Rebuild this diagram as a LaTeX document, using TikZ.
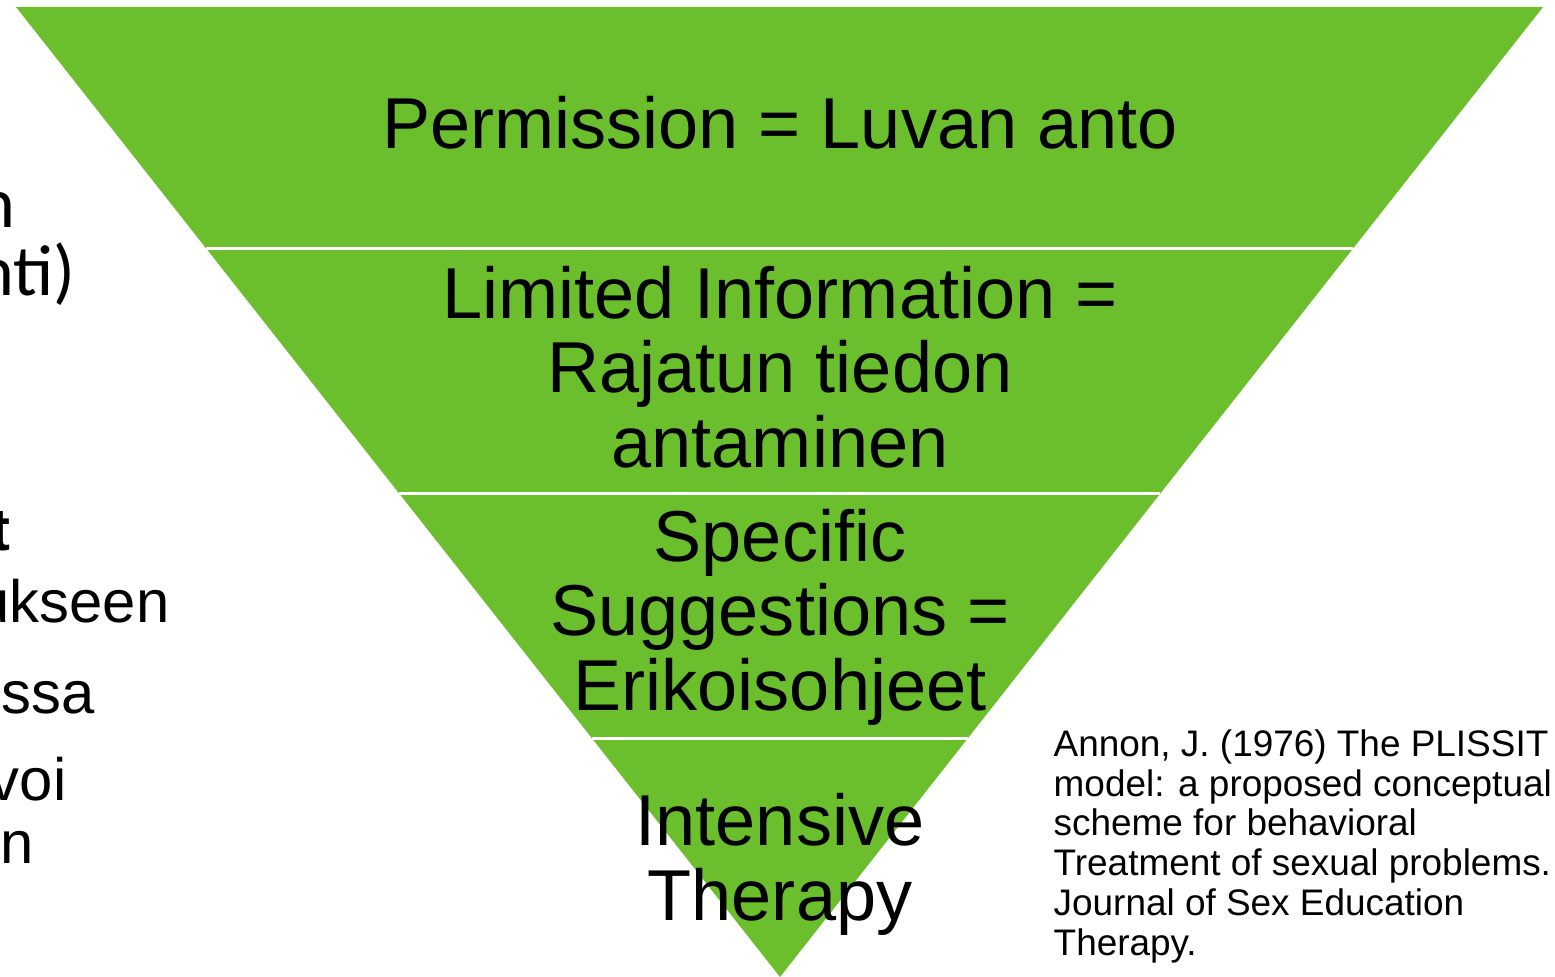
\documentclass[tikz,border=0pt]{standalone}
\usepackage{fontspec}
\setmainfont{Liberation Sans}
\newfontfamily\carlito{Carlito}
\usetikzlibrary{calc}
\definecolor{plgreen}{RGB}{107,190,44}
\begin{document}
\begin{tikzpicture}[x=0.01cm,y=-0.01cm]
  \tikzstyle{level}=[inner sep=0pt,anchor=base,align=center,font=\fontsize{20.5}{21.1}\selectfont]
  \tikzstyle{cut}=[inner sep=0pt,anchor=base east,font=\fontsize{17}{20.4}\selectfont]
  \tikzstyle{cite}=[inner sep=0pt,anchor=base west,align=left,font=\fontsize{10.5}{11.3}\selectfont]
  \tikzstyle{divider}=[draw=white,line width=0.9pt]
  \useasboundingbox (0,0) rectangle (1555,976);
  \clip (0,0) rectangle (1555,976);
  % inverted triangle
  \coordinate (tl) at (16,7);
  \coordinate (tr) at (1543,7);
  \coordinate (apex) at (780,977);
  \fill[plgreen] (tl) -- (tr) -- (apex) -- cycle;
  \foreach \f in {0.2487,0.5015,0.754}
    \draw[divider] ($(tl)!\f!(apex)$) -- ($(tr)!\f!(apex)$);
  % levels (base = last line)
  \node [level] (perm) at (780,149) {Permission = Luvan anto};
  \node [level] (limited) at (780,467) {Limited Information =\\Rajatun tiedon\\antaminen};
  \node [level] (specific) at (780,710) {Specific\\Suggestions =\\Erikoisohjeet};
  \node [level] (intensive) at (780,920) {Intensive\\Therapy};
  % reference
  \node [cite] (annon) at (1053,955) {Annon, J. (1976) The PLISSIT\\model: a proposed conceptual\\scheme for behavioral\\Treatment of sexual problems.\\Journal of Sex Education\\Therapy.};
  % text cut off at the left edge
  \node [cut,font=\carlito\fontsize{20.5}{21.1}\selectfont] (cuta) at (16,227) {n};
  \node [cut,font=\carlito\fontsize{20.5}{21.1}\selectfont] (cutb) at (76,295) {nti)};
  \node [cut,font=\bfseries\fontsize{17}{20.4}\selectfont] (cutc) at (11,550) {t};
  \node [cut] (cutd) at (170,622) {ukseen};
  \node [cut] (cute) at (95,713) {essa};
  \node [cut] (cutf) at (67,800) {voi};
  \node [cut] (cutg) at (34,863) {n};
\end{tikzpicture}
\end{document}
